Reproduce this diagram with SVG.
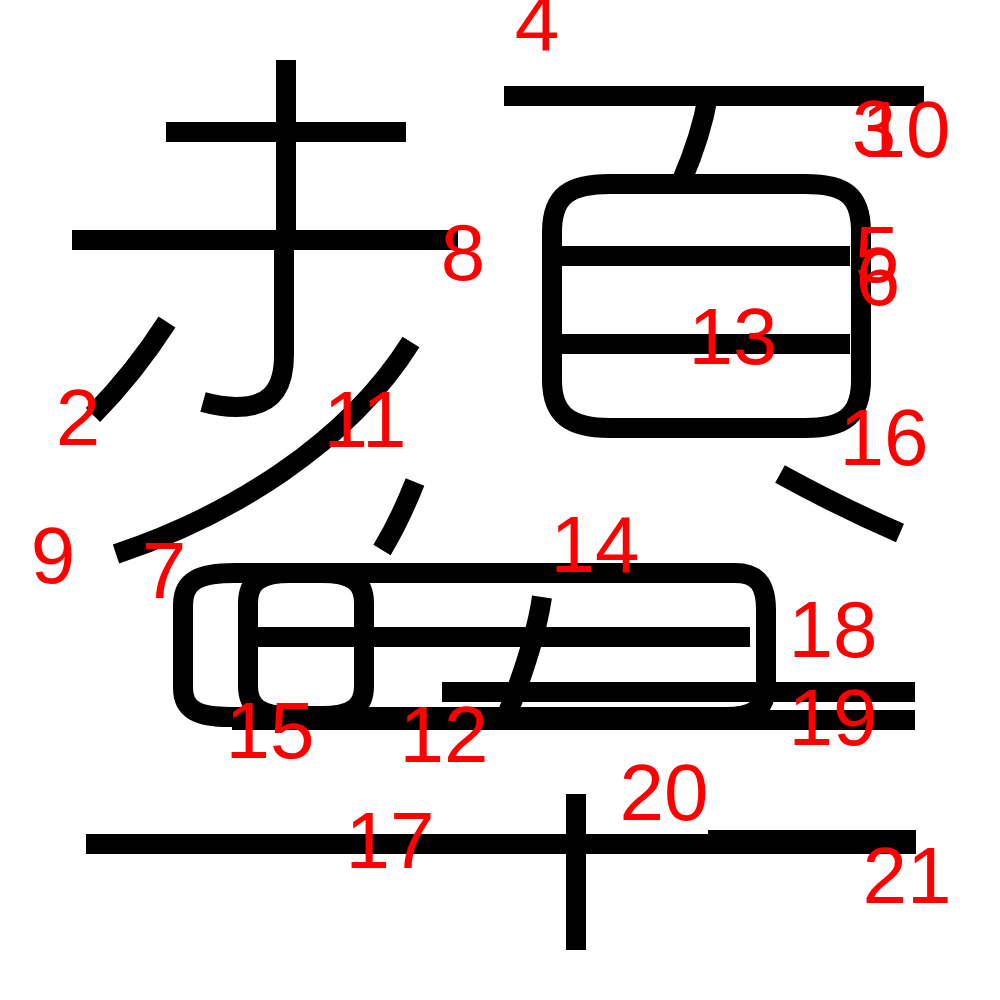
<svg xmlns="http://www.w3.org/2000/svg" width="1000" height="1000" viewBox="0 0 1000 1000">
<style>
.s{fill:none;stroke:#000;stroke-width:20;stroke-linecap:butt;stroke-linejoin:round}
.n{font-family:"Liberation Sans",Arial,sans-serif;font-size:80px;fill:#ff0000;text-anchor:middle}
</style>
<rect width="1000" height="1000" fill="#fff"/>
<g id="strokes">
<path class="s" d="M166,132 H406"/>
<path class="s" d="M286,60 V245"/>
<path class="s" d="M72,240 H458"/>
<path class="s" d="M284,250 V355 C284,392 268,407 236,407 C225,407 214,405 203,402"/>
<path class="s" d="M167,322 Q135,372 93,415"/>
<path class="s" d="M411,342 C347,444 230,516 116,554"/>
<path class="s" d="M415,482 Q400,520 382,550"/>
<path class="s" d="M504,96 H924"/>
<path class="s" d="M708,96 C703,125 695,150 682,180"/>
<path class="s" d="M552,232 C552,195 570,184 610,184 H805 C845,184 861,195 861,232 V380 C861,415 845,428 805,428 H610 C570,428 552,415 552,380 Z"/>
<path class="s" d="M552,256 H850"/>
<path class="s" d="M552,344 H850"/>
<path class="s" d="M780,474 Q840,507 900,533"/>
<path class="s" d="M183,605 C183,580 200,573 235,573 H735 C758,573 766,585 766,610 V685 C766,708 755,717 725,717 H230 C198,717 183,710 183,688 Z"/>
<path class="s" d="M248,603 C248,582 260,573 290,573 H322 C352,573 364,582 364,603 V686 C364,707 352,716 322,716 H290 C260,716 248,707 248,686 Z"/>
<path class="s" d="M248,637 H750"/>
<path class="s" d="M542,597 Q535,645 505,720"/>
<path class="s" d="M442,692 H915"/>
<path class="s" d="M232,720 H915"/>
<path class="s" d="M86,844 H916"/>
<path class="s" d="M708,840 H916"/>
<path class="s" d="M576,794 V950"/>
</g>
<g id="labels">
<text class="n" x="537" y="50">4</text>
<text class="n" x="874" y="156">3</text>
<text class="n" x="906" y="157">10</text>
<text class="n" x="877" y="282">5</text>
<text class="n" x="878" y="305">6</text>
<text class="n" x="463" y="280">8</text>
<text class="n" x="733" y="364">13</text>
<text class="n" x="78" y="445">2</text>
<text class="n" x="365" y="447">11</text>
<text class="n" x="884" y="465">16</text>
<text class="n" x="53" y="583">9</text>
<text class="n" x="164" y="598">7</text>
<text class="n" x="595" y="572">14</text>
<text class="n" x="270" y="758">15</text>
<text class="n" x="444" y="762">12</text>
<text class="n" x="390" y="868">17</text>
<text class="n" x="833" y="657">18</text>
<text class="n" x="833" y="745">19</text>
<text class="n" x="664" y="820">20</text>
<text class="n" x="907" y="903">21</text>
</g>
</svg>
